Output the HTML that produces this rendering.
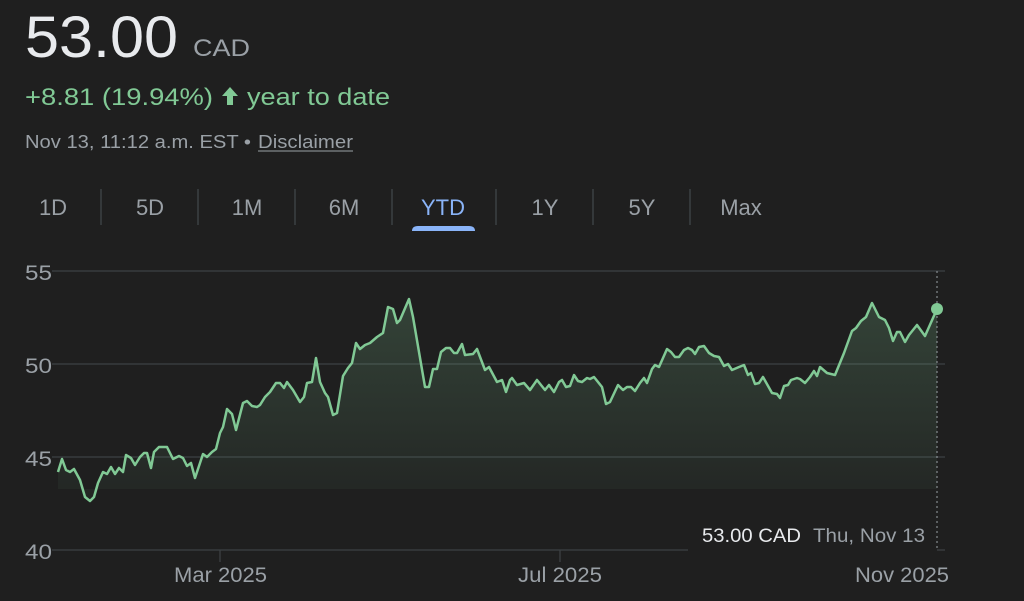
<!DOCTYPE html>
<html><head><meta charset="utf-8"><style>
html,body{margin:0;padding:0;background:#1f1f1f;width:1024px;height:601px;overflow:hidden}
svg{display:block}
text{font-family:"Liberation Sans",Arial,sans-serif}
</style></head><body>
<svg width="1024" height="601" viewBox="0 0 1024 601">
<defs>
<linearGradient id="g" x1="0" y1="290" x2="0" y2="500" gradientUnits="userSpaceOnUse">
<stop offset="0" stop-color="#81c995" stop-opacity="0.22"/>
<stop offset="1" stop-color="#81c995" stop-opacity="0.04"/>
</linearGradient>
</defs>
<rect width="1024" height="601" fill="#1f1f1f"/>
<text x="25" y="57" font-size="58" fill="#e8eaed" textLength="153" lengthAdjust="spacingAndGlyphs">53.00</text>
<text x="193" y="56" font-size="24" fill="#9aa0a6" textLength="57" lengthAdjust="spacingAndGlyphs">CAD</text>
<text x="25" y="105" font-size="24" fill="#81c995" textLength="188" lengthAdjust="spacingAndGlyphs">+8.81 (19.94%)</text>
<path d="M230 87 L238 96 L233 96 L233 105 L227 105 L227 96 L222 96 Z" fill="#81c995"/>
<text x="247" y="105" font-size="24" fill="#81c995" textLength="143" lengthAdjust="spacingAndGlyphs">year to date</text>
<text x="25" y="148" font-size="18" fill="#9aa0a6" textLength="226" lengthAdjust="spacingAndGlyphs">Nov 13, 11:12 a.m. EST •</text>
<text x="258" y="148" font-size="18" fill="#9aa0a6" textLength="95" lengthAdjust="spacingAndGlyphs">Disclaimer</text>
<line x1="258" y1="151" x2="353" y2="151" stroke="#9aa0a6" stroke-width="1"/>
<g font-size="22" fill="#9aa0a6" text-anchor="middle">
<text x="53" y="215">1D</text><text x="150" y="215">5D</text><text x="247" y="215">1M</text><text x="344" y="215">6M</text>
<text x="443" y="215" fill="#8ab4f8">YTD</text><text x="545" y="215">1Y</text><text x="642" y="215">5Y</text><text x="741" y="215">Max</text>
</g>
<g stroke="#3c4043" stroke-width="1.5">
<line x1="101" y1="189" x2="101" y2="225"/><line x1="198" y1="189" x2="198" y2="225"/><line x1="295" y1="189" x2="295" y2="225"/>
<line x1="392" y1="189" x2="392" y2="225"/><line x1="496" y1="189" x2="496" y2="225"/><line x1="593" y1="189" x2="593" y2="225"/><line x1="690" y1="189" x2="690" y2="225"/>
</g>
<path d="M412 231 Q412 226 418 226 L469 226 Q475 226 475 231 Z" fill="#8ab4f8"/>
<g stroke="#3c4043" stroke-width="1.3">
<line x1="52" y1="271" x2="945" y2="271"/><line x1="52" y1="364" x2="945" y2="364"/><line x1="52" y1="457" x2="945" y2="457"/>
<line x1="52" y1="550" x2="688" y2="550"/><line x1="937" y1="550" x2="945" y2="550"/>
<line x1="220" y1="550" x2="220" y2="562"/><line x1="560" y1="550" x2="560" y2="562"/>
</g>
<g font-size="21" fill="#9aa0a6">
<text x="25" y="280" textLength="27" lengthAdjust="spacingAndGlyphs">55</text><text x="25" y="373" textLength="27" lengthAdjust="spacingAndGlyphs">50</text><text x="25" y="466" textLength="27" lengthAdjust="spacingAndGlyphs">45</text><text x="25" y="559" textLength="27" lengthAdjust="spacingAndGlyphs">40</text>
<text x="174" y="582" textLength="93" lengthAdjust="spacingAndGlyphs">Mar 2025</text><text x="518" y="582" textLength="84" lengthAdjust="spacingAndGlyphs">Jul 2025</text><text x="855" y="582" textLength="94" lengthAdjust="spacingAndGlyphs">Nov 2025</text>
</g>
<path fill="url(#g)" d="M58 472 L62 459 L66 470 L70 472 L74 469 L80 480 L85 497 L90 501 L94 497 L98 483 L103 472 L107 474 L111 467 L115 474 L119 468 L123 472 L126 455 L131 458 L135 465 L140 457 L144 453 L147 453 L151 468 L154 452 L159 447 L167 447 L173 459 L179 456 L183 458 L187 466 L191 463 L195 478 L203 454 L207 457 L212 452 L216 449 L220 433 L223 427 L227 409 L232 414 L236 430 L243 403 L247 401 L252 406 L257 407 L260 405 L265 397 L270 392 L276 383 L280 383 L284 388 L287 382 L293 390 L300 402 L304 397 L307 383 L312 382 L316 358 L320 382 L325 393 L328 397 L333 415 L337 413 L343 376 L348 368 L352 363 L356 343 L360 349 L365 345 L370 343 L377 337 L383 333 L388 307 L393 309 L397 323 L400 320 L409 299 L413 317 L425 387 L429 387 L433 369 L437 369 L441 352 L446 348 L450 348 L454 353 L457 353 L462 344 L465 355 L473 354 L477 349 L485 370 L489 367 L497 382 L502 380 L506 392 L510 380 L512 378 L517 385 L524 383 L530 390 L537 380 L545 390 L549 385 L554 392 L559 382 L562 380 L566 387 L570 386 L574 375 L578 381 L582 382 L587 378 L590 379 L594 377 L602 387 L606 404 L610 402 L618 385 L623 390 L627 387 L631 387 L635 391 L640 383 L644 378 L647 383 L652 369 L655 365 L659 367 L667 349 L671 352 L675 357 L679 357 L684 350 L688 348 L692 350 L695 354 L699 347 L704 346 L709 353 L714 356 L719 357 L724 366 L728 364 L732 370 L739 367 L744 365 L748 375 L751 373 L755 384 L759 383 L763 377 L772 393 L777 394 L780 398 L784 386 L788 385 L791 380 L797 378 L800 379 L805 383 L810 377 L814 371 L817 376 L820 367 L827 373 L835 375 L844 353 L852 331 L856 328 L861 321 L866 317 L872 303 L879 317 L885 320 L889 328 L893 341 L897 332 L900 332 L905 342 L909 335 L917 325 L925 336 L937 309 L937 489 L58 489 Z"/>
<polyline fill="none" stroke="#81c995" stroke-width="2.5" stroke-linejoin="round" points="58,472 62,459 66,470 70,472 74,469 80,480 85,497 90,501 94,497 98,483 103,472 107,474 111,467 115,474 119,468 123,472 126,455 131,458 135,465 140,457 144,453 147,453 151,468 154,452 159,447 167,447 173,459 179,456 183,458 187,466 191,463 195,478 203,454 207,457 212,452 216,449 220,433 223,427 227,409 232,414 236,430 243,403 247,401 252,406 257,407 260,405 265,397 270,392 276,383 280,383 284,388 287,382 293,390 300,402 304,397 307,383 312,382 316,358 320,382 325,393 328,397 333,415 337,413 343,376 348,368 352,363 356,343 360,349 365,345 370,343 377,337 383,333 388,307 393,309 397,323 400,320 409,299 413,317 425,387 429,387 433,369 437,369 441,352 446,348 450,348 454,353 457,353 462,344 465,355 473,354 477,349 485,370 489,367 497,382 502,380 506,392 510,380 512,378 517,385 524,383 530,390 537,380 545,390 549,385 554,392 559,382 562,380 566,387 570,386 574,375 578,381 582,382 587,378 590,379 594,377 602,387 606,404 610,402 618,385 623,390 627,387 631,387 635,391 640,383 644,378 647,383 652,369 655,365 659,367 667,349 671,352 675,357 679,357 684,350 688,348 692,350 695,354 699,347 704,346 709,353 714,356 719,357 724,366 728,364 732,370 739,367 744,365 748,375 751,373 755,384 759,383 763,377 772,393 777,394 780,398 784,386 788,385 791,380 797,378 800,379 805,383 810,377 814,371 817,376 820,367 827,373 835,375 844,353 852,331 856,328 861,321 866,317 872,303 879,317 885,320 889,328 893,341 897,332 900,332 905,342 909,335 917,325 925,336 937,309"/>
<line x1="937" y1="271" x2="937" y2="550" stroke="#9aa0a6" stroke-width="1" stroke-dasharray="2,3"/>
<circle cx="937" cy="309" r="6" fill="#81c995"/>
<text x="702" y="542" font-size="19" fill="#e8eaed" textLength="99" lengthAdjust="spacingAndGlyphs">53.00 CAD</text>
<text x="813" y="542" font-size="19" fill="#9aa0a6" textLength="112" lengthAdjust="spacingAndGlyphs">Thu, Nov 13</text>
</svg>
</body></html>
